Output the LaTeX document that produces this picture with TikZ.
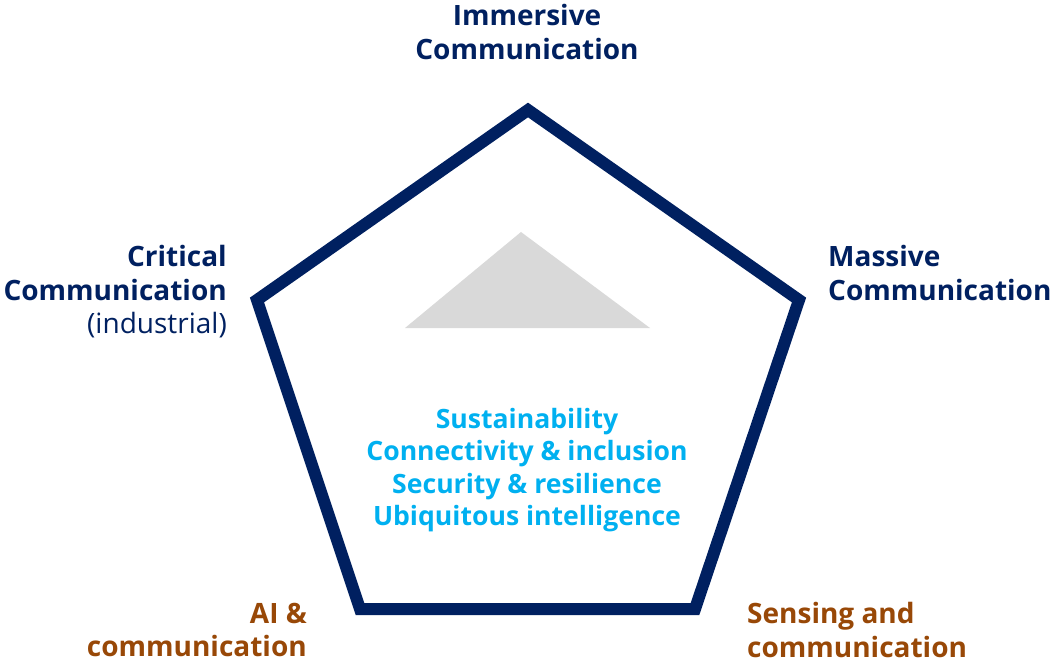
\documentclass[tikz,border=0pt]{standalone}
\usepackage{fontspec}
\setmainfont{Open Sans}
\definecolor{navy}{HTML}{002060}
\definecolor{skyblue}{HTML}{00B0F0}
\definecolor{rust}{HTML}{984807}
\definecolor{lightgray}{HTML}{D9D9D9}
\tikzset{
  lbl/.style={inner sep=0pt, font=\fontsize{28}{33.5}\selectfont\bfseries},
  navylbl/.style={lbl, text=navy},
  rustlbl/.style={lbl, text=rust},
  corelbl/.style={lbl, text=skyblue, align=center, font=\fontsize{26.6}{32.5}\selectfont\bfseries},
}
\begin{document}
\begin{tikzpicture}[x=1pt,y=-1pt]
\useasboundingbox (0,0) rectangle (1051,660);
\coordinate (T) at (528,110);
\coordinate (R) at (799,300);
\coordinate (BR) at (695,609);
\coordinate (BL) at (360,609);
\coordinate (L) at (257,300);
\fill[lightgray] (521,232) -- (650,328) -- (405,328) -- cycle;
\draw[navy, line width=12pt, line join=miter] (T) -- (R) -- (BR) -- (BL) -- (L) -- cycle;
\node[navylbl, align=center] (imm) at (527,32) {Immersive\\Communication};
\node[navylbl, align=right, anchor=east] (crit) at (227,292) {Critical\\Communication\\\mdseries(industrial)};
\node[navylbl, align=left, anchor=west] (mass) at (828,273) {Massive\\Communication};
\node[rustlbl, align=right, anchor=east] (ai) at (307,630) {AI \&\\communication};
\node[rustlbl, align=left, anchor=west] (sens) at (747,630) {Sensing and\\communication};
\node[corelbl] (core) at (527,470) {Sustainability\\Connectivity \& inclusion\\Security \& resilience\\Ubiquitous intelligence};
\end{tikzpicture}
\end{document}
